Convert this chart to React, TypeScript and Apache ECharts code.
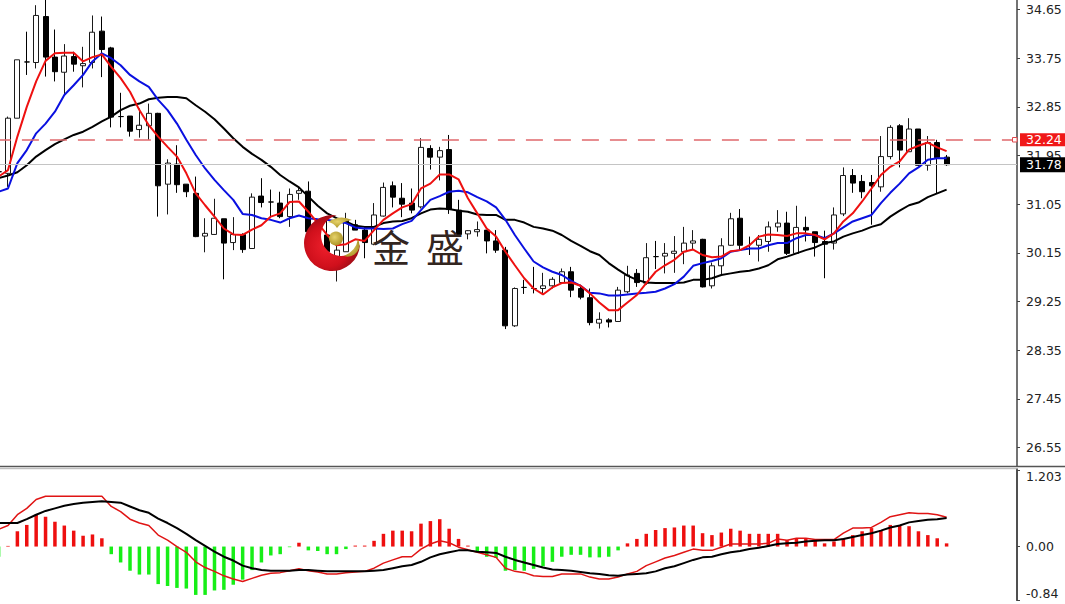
import React, { useEffect, useRef } from "react";
import * as echarts from "echarts";

// Candles from index -1 (cut by the left edge) to 100: [open, close, low, high]
const ohlc: number[][] = [
  [31.65,31.65,31.5,31.8],
  [31.62,32.64,31.37,32.67],[32.64,33.72,32.64,33.72],[33.68,33.68,33.44,34.24],[33.67,34.54,33.56,34.73],[34.52,33.77,33.41,34.85],
  [33.77,33.50,33.32,34.28],[33.49,33.79,33.07,34.01],[33.78,33.64,33.50,33.87],[33.61,33.65,33.21,33.96],[33.67,34.23,33.56,34.54],
  [34.25,33.91,33.40,34.52],[33.94,32.66,32.47,33.96],[32.67,32.67,32.47,33.11],[32.68,32.40,32.30,32.68],[32.43,32.51,32.28,32.82],
  [32.50,32.73,32.24,32.91],[32.73,31.39,30.82,32.74],[31.42,31.81,30.86,31.88],[31.79,31.41,31.26,32.14],[31.42,31.28,31.18,31.42],
  [31.25,30.45,30.44,31.56],[30.46,30.51,30.16,30.79],[30.49,30.79,30.48,31.15],[30.78,30.33,29.66,30.78],[30.34,30.49,30.20,30.81],
  [30.49,30.21,30.15,30.51],[30.23,31.18,30.23,31.25],[31.20,31.08,30.99,31.53],[31.09,31.09,30.82,31.32],[31.07,30.82,30.79,31.28],
  [30.82,31.23,30.63,31.34],[31.25,31.30,31.13,31.37],[31.29,30.54,30.48,31.47],[30.40,30.55,30.30,30.70],[30.48,30.17,30.17,30.79],
  [30.08,30.20,29.62,30.51],[30.17,30.76,30.17,30.89],[30.67,30.57,30.57,30.76],[30.57,30.34,30.05,30.63],[30.31,30.85,30.29,31.07],
  [30.83,31.36,30.82,31.45],[31.39,31.18,30.99,31.47],[31.16,31.05,30.81,31.44],[31.07,30.94,30.88,31.34],[31.00,32.10,30.97,32.27],
  [32.08,31.92,31.69,32.14],[31.92,32.04,31.49,32.11],[32.06,30.95,30.87,32.33],[30.94,30.49,30.48,31.13],[30.50,30.56,30.40,30.57],
  [30.54,30.58,30.45,30.73],[30.57,30.37,30.14,30.57],[30.37,30.20,30.15,30.57],[30.20,28.80,28.74,30.26],[28.80,29.49,28.78,29.51],
  [29.51,29.51,29.39,29.65],[29.49,29.49,29.40,29.89],[29.49,29.54,29.40,29.78],[29.54,29.66,29.49,29.70],[29.60,29.80,29.59,29.86],
  [29.80,29.46,29.33,29.89],[29.49,29.33,29.29,29.56],[29.32,28.86,28.81,29.49],[28.85,28.92,28.75,29.05],[28.91,28.87,28.77,28.94],
  [28.88,29.46,28.88,29.52],[29.43,29.74,29.40,29.91],[29.77,29.60,29.52,29.85],[29.59,30.06,29.56,30.33],[30.08,30.08,29.85,30.37],
  [30.09,30.14,29.77,30.33],[30.14,30.18,29.78,30.46],[30.17,30.33,29.94,30.63],[30.33,30.37,30.20,30.57],[30.40,29.52,29.51,30.41],
  [29.54,29.91,29.49,29.97],[29.91,30.28,29.73,30.42],[30.29,30.78,30.28,30.89],[30.79,30.29,30.20,30.96],[30.23,30.23,30.11,30.45],
  [30.29,30.40,29.99,30.48],[30.36,30.63,30.17,30.73],[30.63,30.70,30.54,30.94],[30.70,30.14,30.11,30.91],[30.14,30.62,30.13,31.02],
  [30.62,30.57,30.36,30.82],[30.54,30.34,30.08,30.54],[30.36,30.31,29.68,30.56],[30.33,30.85,30.21,30.99],[30.87,31.58,30.83,31.73],
  [31.58,31.44,31.26,31.70],[31.47,31.28,31.16,31.59],[31.45,31.39,30.67,31.59],[31.37,31.93,31.28,32.31],[31.93,32.47,31.88,32.51],
  [32.50,32.05,31.73,32.53],[32.02,32.44,32.02,32.64],[32.44,31.77,31.76,32.44],[31.77,32.19,31.67,32.31],[32.19,31.91,31.25,32.24],
  [31.92,31.78,31.76,31.96],
];

const maRed = [
  31.56,31.68,32.30,32.85,33.32,33.70,33.84,33.85,33.85,33.69,33.77,33.82,33.59,33.38,33.13,32.79,32.51,32.30,32.11,31.93,31.62,31.25,
  31.03,30.82,30.60,30.49,30.48,30.58,30.66,30.82,30.88,31.09,31.10,30.91,30.70,30.48,30.29,30.31,30.40,30.37,30.57,30.76,30.88,30.99,
  31.05,31.34,31.43,31.60,31.60,31.51,31.16,30.88,30.60,30.45,30.17,29.92,29.68,29.49,29.38,29.51,29.59,29.60,29.54,29.40,29.23,29.09,
  29.09,29.23,29.37,29.59,29.80,29.92,30.02,30.17,30.21,30.11,30.07,30.08,30.18,30.20,30.29,30.45,30.49,30.48,30.46,30.51,30.51,30.48,
  30.40,30.51,30.73,30.88,31.10,31.34,31.59,31.74,31.84,32.06,32.13,32.19,32.10,32.03,
];
const maBlue = [
  31.28,31.34,31.81,32.05,32.36,32.54,32.76,33.07,33.25,33.44,33.69,33.84,33.75,33.62,33.44,33.32,33.22,32.98,32.79,32.54,32.24,31.96,
  31.71,31.50,31.31,31.13,30.87,30.85,30.79,30.76,30.71,30.79,30.84,30.79,30.77,30.76,30.73,30.70,30.62,30.60,30.60,30.59,30.60,30.68,
  30.74,30.94,31.13,31.20,31.28,31.30,31.27,31.18,31.10,30.99,30.76,30.48,30.23,29.99,29.88,29.80,29.74,29.63,29.54,29.41,29.40,29.36,
  29.36,29.38,29.40,29.41,29.43,29.49,29.57,29.71,29.91,29.96,30.00,30.05,30.17,30.20,30.23,30.23,30.29,30.33,30.33,30.42,30.48,30.48,
  30.42,30.51,30.62,30.73,30.79,30.85,31.07,31.26,31.43,31.62,31.73,31.87,31.90,31.90,
];
const maBlack = [
  31.53,31.58,31.64,31.77,31.93,32.05,32.16,32.25,32.33,32.39,32.48,32.58,32.67,32.79,32.87,32.91,32.99,33.02,33.03,33.03,33.01,32.88,
  32.76,32.62,32.45,32.27,32.11,31.98,31.87,31.74,31.59,31.47,31.36,31.19,31.02,30.88,30.79,30.73,30.65,30.63,30.63,30.70,30.73,30.74,
  30.79,30.88,30.95,30.97,30.96,30.93,30.91,30.86,30.85,30.85,30.76,30.76,30.71,30.63,30.60,30.56,30.48,30.37,30.28,30.18,30.11,29.96,
  29.84,29.73,29.65,29.60,29.59,29.59,29.59,29.60,29.65,29.65,29.68,29.74,29.77,29.80,29.82,29.86,29.92,30.03,30.08,30.14,30.20,30.25,
  30.33,30.36,30.45,30.51,30.56,30.63,30.68,30.82,30.93,31.03,31.08,31.18,31.25,31.32,
];

const macdHist = [
  -0.16,0.01,0.24,0.34,0.50,0.47,0.39,0.33,0.25,0.17,0.19,0.13,
  -0.12,-0.25,-0.38,-0.44,-0.44,-0.59,-0.62,-0.65,-0.66,-0.76,-0.76,-0.69,-0.68,-0.60,-0.52,-0.37,-0.25,-0.14,-0.12,-0.01,
  0.06,-0.06,-0.07,-0.12,-0.12,-0.04,0.015,0.015,0.09,0.20,0.25,0.25,0.24,0.36,0.40,0.43,0.28,0.12,0.015,
  -0.08,-0.16,-0.18,-0.38,-0.37,-0.38,-0.35,-0.31,-0.24,-0.16,-0.13,-0.13,-0.17,-0.17,-0.16,-0.06,
  0.05,0.12,0.20,0.26,0.29,0.30,0.33,0.33,0.21,0.18,0.22,0.28,0.25,0.20,0.20,0.20,0.20,0.10,0.13,0.13,0.10,0.05,0.08,0.13,0.18,0.24,0.29,0.26,0.34,0.33,0.32,0.24,0.18,0.13,0.05,
];
const macdRed = [
  0.27,0.33,0.50,0.60,0.74,0.79,0.79,0.79,0.79,0.79,0.79,0.79,
  0.63,0.55,0.43,0.37,0.33,0.18,0.10,0,-0.09,-0.24,-0.33,-0.39,-0.46,-0.51,-0.55,-0.50,-0.45,-0.42,-0.41,-0.38,-0.35,-0.38,-0.40,-0.43,-0.43,-0.41,-0.40,
  -0.39,-0.34,-0.26,-0.21,-0.16,-0.16,-0.04,0.04,0.09,0.06,-0.01,-0.05,-0.09,-0.13,-0.17,-0.34,-0.39,-0.41,-0.46,-0.47,-0.47,-0.43,-0.43,-0.43,-0.48,-0.51,-0.51,-0.48,-0.43,-0.39,-0.30,-0.24,-0.18,-0.14,-0.09,-0.04,-0.06,
  -0.06,-0.01,0.04,0.04,0.04,0.04,0.05,0.12,0.10,0.13,0.13,0.11,0.11,0.11,0.21,0.29,0.29,0.30,0.38,0.47,0.50,0.53,0.52,0.52,0.50,0.46,
];
const macdBlack = [
  0.37,0.37,0.37,0.43,0.50,0.56,0.60,0.64,0.67,0.69,0.70,0.71,0.70,0.69,0.63,0.57,0.53,0.44,0.37,0.29,0.20,0.10,0.01,-0.08,-0.16,-0.22,-0.30,-0.34,-0.37,-0.38,-0.38,-0.38,-0.37,-0.37,-0.38,-0.39,-0.39,-0.39,-0.39,
  -0.39,-0.38,-0.37,-0.34,-0.31,-0.29,-0.24,-0.17,-0.12,-0.09,-0.06,-0.06,-0.08,-0.09,-0.10,-0.16,-0.21,-0.25,-0.29,-0.33,-0.36,-0.37,-0.38,-0.40,-0.42,-0.43,-0.45,-0.46,-0.44,-0.43,-0.42,-0.39,-0.34,-0.31,-0.26,-0.21,-0.17,
  -0.16,-0.12,-0.09,-0.07,-0.04,-0.02,0.01,0.04,0.05,0.06,0.08,0.09,0.10,0.10,0.12,0.15,0.18,0.21,0.25,0.30,0.33,0.38,0.40,0.42,0.43,0.45,
];

const priceTicks = [34.65, 33.75, 32.85, 31.95, 31.05, 30.15, 29.25, 28.35, 27.45, 26.55];
const macdTicks = [-0.84, 0, 1.203];
const priceRange = [26.2075, 34.826];
const macdRange = [-0.84, 1.203];
const resistance = 32.24;
const lastPrice = 31.78;
const slotCount = 109;
const slots = Array.from({ length: slotCount }, (_, i) => String(i));
const AXIS_FONT = "'DejaVu Sans', Verdana, sans-serif";
const SHIFT = 20; // the canvas starts this far left of the page so the first candle can be cut by the window edge

echarts.graphic.registerShape(
  "crescent",
  echarts.graphic.extendPath("M 336.7 215.5 A 28 28 0 1 0 360 244.3 A 20.5 20.5 0 1 1 336.7 215.5 Z", {})
);
echarts.graphic.registerShape(
  "swooshTop",
  echarts.graphic.extendPath("M 328 222 Q 340 214 352 220 Q 342 221 337 228 Q 334 223 328 222 Z", {})
);
echarts.graphic.registerShape(
  "swooshLow",
  echarts.graphic.extendPath("M 344 256 Q 356 251 358 239 Q 362 248 355 254 Q 350 258 344 256 Z", {})
);

const gold = {
  type: "radial", x: 0.4, y: 0.4, r: 0.7,
  colorStops: [{ offset: 0, color: "#e6d26a" }, { offset: 1, color: "#a48c1e" }],
};

function App() {
  const ref = useRef<HTMLDivElement>(null);
  useEffect(() => {
    document.body.style.margin = "0";
    document.body.style.overflow = "hidden";
    const chart = echarts.init(ref.current!, undefined, { renderer: "svg" });
    const maLine = (name: string, data: number[], color: string) => ({
      name, type: "line", data, xAxisIndex: 0, yAxisIndex: 0, symbol: "none", z: 4,
      lineStyle: { color, width: 2 }, smooth: false,
    });
    chart.setOption({
      animation: false,
      backgroundColor: "#ffffff",
      tooltip: { show: false },
      legend: { show: false },
      grid: [
        { left: SHIFT - 6.08, right: 48, top: 0, height: 466 },
        { left: SHIFT - 6.08, right: 48, top: 470, height: 130 },
      ],
      xAxis: [0, 1].map((gridIndex) => ({
        type: "category", gridIndex, data: slots, show: false, boundaryGap: true,
      })),
      yAxis: [
        {
          type: "value", gridIndex: 0, position: "right", min: priceRange[0], max: priceRange[1], scale: true,
          splitLine: { show: false },
          axisLine: { show: true, lineStyle: { color: "#444444", width: 1.5 } },
          axisTick: { show: true, length: 3, lineStyle: { color: "#444444" }, customValues: priceTicks },
          axisLabel: {
            color: "#222222", fontFamily: AXIS_FONT, fontSize: 12.5, margin: 9,
            customValues: priceTicks, formatter: (v: number) => v.toFixed(2),
          },
        },
        {
          type: "value", gridIndex: 1, position: "right", min: macdRange[0], max: macdRange[1], scale: true,
          splitLine: { show: false },
          axisLine: { show: true, lineStyle: { color: "#444444", width: 1.5 } },
          axisTick: { show: true, length: 3, lineStyle: { color: "#444444" }, customValues: macdTicks },
          axisLabel: {
            color: "#222222", fontFamily: AXIS_FONT, fontSize: 12.5, margin: 9,
            customValues: macdTicks,
            verticalAlignMinLabel: "bottom", verticalAlignMaxLabel: "top",
            formatter: (v: number) => (v === 1.203 ? "1.203" : v.toFixed(2)),
          },
        },
      ],
      series: [
        {
          name: "levels", type: "line", data: [], xAxisIndex: 0, yAxisIndex: 0, z: 1, symbol: "none",
          markLine: {
            silent: true, symbol: ["none", "none"], animation: false,
            data: [
              {
                yAxis: lastPrice,
                lineStyle: { color: "#c4c4c4", width: 1, type: "solid" },
                label: {
                  show: true, position: "end", distance: 3, formatter: lastPrice.toFixed(2),
                  color: "#ffffff", backgroundColor: "#000000", fontFamily: AXIS_FONT, fontSize: 12.5,
                  padding: [1, 4, 1, 6],
                },
              },
              {
                yAxis: resistance,
                lineStyle: { color: "#e0686c", width: 1.5, type: [17, 11] },
                label: {
                  show: true, position: "end", distance: 3, formatter: resistance.toFixed(2),
                  color: "#ffffff", backgroundColor: "#f01818", fontFamily: AXIS_FONT, fontSize: 12.5,
                  padding: [0, 4, 0, 6],
                },
              },
            ],
          },
        },
        {
          name: "price", type: "candlestick", data: ohlc, xAxisIndex: 0, yAxisIndex: 0, z: 2, barWidth: 5.5,
          itemStyle: {
            color: "#ffffff", color0: "#000000", borderColor: "#1a1a1a", borderColor0: "#000000",
            borderColorDoji: "#000000", borderWidth: 1,
          },
        },
        maLine("MA long", maBlack, "#000000"),
        maLine("MA mid", maBlue, "#0a10e0"),
        maLine("MA short", maRed, "#ee1010"),
        {
          name: "MACD bars", type: "bar", data: macdHist, xAxisIndex: 1, yAxisIndex: 1, barWidth: 3.5, z: 2,
          itemStyle: { color: (p: any) => (p.value >= 0 ? "#ee0f0f" : "#17ee17") },
        },
        {
          name: "MACD signal", type: "line", data: macdRed, xAxisIndex: 1, yAxisIndex: 1, symbol: "none", z: 3,
          lineStyle: { color: "#e01414", width: 1.5 },
        },
        {
          name: "MACD line", type: "line", data: macdBlack, xAxisIndex: 1, yAxisIndex: 1, symbol: "none", z: 4,
          lineStyle: { color: "#000000", width: 2 },
        },
      ],
      graphic: [
        {
          type: "group", x: SHIFT, y: 0, z: 100,
          children: [
            // pane separator and the last stretch of the axis
            { type: "line", z: 50, shape: { x1: -SHIFT, y1: 466.5, x2: 1065, y2: 466.5 }, style: { stroke: "#555555", lineWidth: 1.5 } },
            { type: "line", z: 50, shape: { x1: -SHIFT, y1: 468.7, x2: 1018, y2: 468.7 }, style: { stroke: "#b0b0b0", lineWidth: 1 } },
            { type: "line", z: 50, shape: { x1: 1017, y1: 468.7, x2: 1017, y2: 601 }, style: { stroke: "#444444", lineWidth: 1.5 } },
            // marker at the end of the dashed level
            { type: "rect", z: 50, shape: { x: 1012.5, y: 137.5, width: 4.5, height: 4.5 }, style: { fill: "#ffffff", stroke: "#e0484c", lineWidth: 1 } },
            // watermark
            {
              type: "crescent", z: 100,
              style: {
                fill: {
                  type: "radial", x: 0.42, y: 0.55, r: 0.62,
                  colorStops: [
                    { offset: 0, color: "#f0202c" }, { offset: 0.6, color: "#d0101c" }, { offset: 1, color: "#8c0c14" },
                  ],
                },
              },
            },
            { type: "swooshTop", z: 100, style: { fill: gold } },
            { type: "swooshLow", z: 100, style: { fill: gold } },
            { type: "circle", z: 100, shape: { cx: 336, cy: 238.5, r: 7 }, style: { fill: gold } },
            {
              type: "text", z: 100, x: 372, y: 245,
              style: {
                text: "金", fontSize: 38, fill: "#33261f", verticalAlign: "middle",
                fontFamily: "'Noto Sans CJK SC', sans-serif",
              },
            },
            {
              type: "text", z: 100, x: 426, y: 245,
              style: {
                text: "盛", fontSize: 38, fill: "#33261f", verticalAlign: "middle",
                fontFamily: "'Noto Sans CJK SC', sans-serif",
              },
            },
          ],
        },
      ],
    });
    return () => chart.dispose();
  }, []);
  return (
    <div
      ref={ref}
      style={{ position: "fixed", left: -SHIFT, top: 0, width: 1065 + SHIFT, height: 604, background: "#fff" }}
    />
  );
}

export default App;
